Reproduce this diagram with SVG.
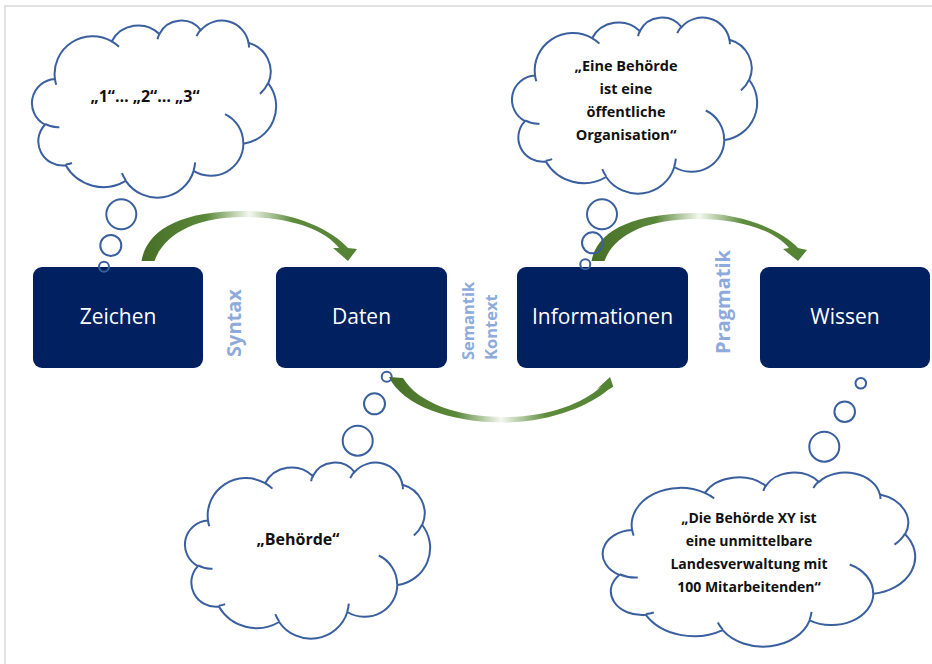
<svg xmlns="http://www.w3.org/2000/svg" xmlns:xlink="http://www.w3.org/1999/xlink" width="932" height="664" viewBox="0 0 932 664">
<style>
.frame{fill:none;stroke:#d9d9d9;stroke-width:1.5}
.box{fill:#002060}
.boxtxt{font-family:"Open Sans","Liberation Sans",sans-serif;font-size:21px;fill:#ffffff;text-anchor:middle}
.lbl{font-family:"Open Sans","Liberation Sans",sans-serif;font-weight:bold;fill:#8eaadb}
.cloud{fill:#ffffff;stroke:#3a5f9e}
.hook{fill:none;stroke:#3a5f9e}
.bub{fill:none;stroke:#3a5f9e;stroke-width:2}
.ctxt{font-family:"Open Sans","Liberation Sans",sans-serif;font-weight:bold;fill:#111111;text-anchor:middle}
.arrow{fill:url(#gArrow)}
</style>
<defs>
<linearGradient id="gArrow" x1="0" y1="0" x2="1" y2="0">
<stop offset="0" stop-color="#476f27"/>
<stop offset="0.3" stop-color="#5a8839"/>
<stop offset="0.5" stop-color="#f4f8f0"/>
<stop offset="0.7" stop-color="#5e8c3c"/>
<stop offset="1" stop-color="#548235"/>
</linearGradient>
<path id="cloudBody" vector-effect="non-scaling-stroke" stroke-width="2" d="M39,143.7 A67.53,91.9 0 0 1 140.06,52.03 A53.33,72.67 0 0 1 224.61,34.37 A43.65,59.45 0 0 1 298.37,24.85 A48.57,65.95 0 0 1 383.23,55.79 A53.33,72.73 0 0 1 418.23,154.63 A67.75,92.2 0 0 1 374.1,302.09 A57.85,78.67 0 0 1 285.62,368.19 A67.52,92.15 0 0 1 164.87,392.72 A77.2,105.43 0 0 1 58.11,354.76 A43.6,59.18 0 0 1 21.2,255.55 A43.45,59.45 0 0 1 39,143.7 Z"/>
<path id="cloudHooks" vector-effect="non-scaling-stroke" stroke-width="2" d="M46.93,261.77 A43.45,59.45 0 0 1 21.6,253.8 M69.28,348.99 A43.6,59.18 0 0 1 58.19,352.81 M164.78,390.9 A67.52,92.15 0 0 1 158.1,373.5 M288.27,347.51 A67.52,92.15 0 0 1 285.6,366.6 M341.29,229.54 A57.85,78.67 0 0 1 373.81,300.9 M417.98,153.54 A53.33,72.73 0 0 1 403.5,180.3 M383.24,54.26 A48.57,65.95 0 0 1 384,66.9 M290.78,39.52 A48.57,65.95 0 0 1 298.19,23.4 M221.41,47.2 A43.65,59.45 0 0 1 225,33.3 M140,51.92 A67.53,91.9 0 0 1 152.99,65.4 M41.27,157.89 A67.53,91.9 0 0 1 39,143.71"/>
</defs>

<path class="frame" d="M5,664 V6 H932"/>

<g id="connectors">
<path class="arrow" d="M141.5,261 C147,229 182,211 243,211 C292,211 331,229 348,248 L357,249 L348,261 L333,248 L339,248 C324,229 290,217 243,217 C196,217 164,234 154.5,261 Z"/>
<path class="arrow" d="M591.5,261 C597,231 632,213 697,213 C742,213 781,230 798,248 L807,250 L798,261 L783,249 L789,248 C774,230 740,219 697,219 C646,219 614,235 604.5,261 Z"/>
<path class="arrow" d="M389,377 C402,405 450,422.5 503,422.5 C552,422.5 590,405 608.6,389.6 L613.3,386.7 L610,377 L596.7,389.3 L601.4,386.4 C582,404 547,417 503,417 C458,417 418,403 403,378 Z"/>
</g>

<g id="node-zeichen">
<rect class="box" x="33" y="267" width="170" height="101" rx="9"/>
<text class="boxtxt" x="118" y="324">Zeichen</text>
</g>
<g id="node-daten">
<rect class="box" x="276" y="267" width="171" height="101" rx="9"/>
<text class="boxtxt" x="361.5" y="324">Daten</text>
</g>
<g id="node-informationen">
<rect class="box" x="517" y="267" width="171" height="101" rx="9"/>
<text class="boxtxt" x="602.5" y="324">Informationen</text>
</g>
<g id="node-wissen">
<rect class="box" x="760" y="267" width="170" height="101" rx="9"/>
<text class="boxtxt" x="845" y="324">Wissen</text>
</g>

<g id="label-syntax">
<text class="lbl" font-size="20" text-anchor="middle" transform="translate(241,323) rotate(-90)">Syntax</text>
</g>
<g id="label-semantik">
<text class="lbl" font-size="16.5" text-anchor="start" transform="translate(473.5,360) rotate(-90)">Semantik</text>
<text class="lbl" font-size="16.5" text-anchor="start" transform="translate(496.5,360) rotate(-90)">Kontext</text>
</g>
<g id="label-pragmatik">
<text class="lbl" font-size="20" text-anchor="middle" transform="translate(729.5,302) rotate(-90)">Pragmatik</text>
</g>

<g id="cloud-zeichen">
<g transform="translate(33,20) scale(0.5625,0.40972)">
<use xlink:href="#cloudBody" class="cloud"/>
<use xlink:href="#cloudHooks" class="hook"/>
</g>
<circle class="bub" cx="121.3" cy="214.3" r="15"/>
<circle class="bub" cx="110.8" cy="245.5" r="10.5"/>
<circle class="bub" cx="104" cy="266.7" r="5"/>
<text class="ctxt" font-size="16" x="145" y="102">„1“… „2“… „3“</text>
</g>

<g id="cloud-informationen">
<g transform="translate(513,17) scale(0.56481,0.40741)">
<use xlink:href="#cloudBody" class="cloud"/>
<use xlink:href="#cloudHooks" class="hook"/>
</g>
<circle class="bub" cx="602" cy="214.3" r="15"/>
<circle class="bub" cx="592.5" cy="242.8" r="10.5"/>
<circle class="bub" cx="585.3" cy="264.3" r="5"/>
<text class="ctxt" font-size="14.5" x="626" y="71">„Eine Behörde</text>
<text class="ctxt" font-size="14.5" x="626" y="94">ist eine</text>
<text class="ctxt" font-size="14.5" x="626" y="117">öffentliche</text>
<text class="ctxt" font-size="14.5" x="626" y="140">Organisation“</text>
</g>

<g id="cloud-daten">
<g transform="translate(186,462) scale(0.56481,0.40741)">
<use xlink:href="#cloudBody" class="cloud"/>
<use xlink:href="#cloudHooks" class="hook"/>
</g>
<circle class="bub" cx="357.7" cy="440.7" r="15"/>
<circle class="bub" cx="374.5" cy="403.8" r="10.5"/>
<circle class="bub" cx="386.7" cy="376.7" r="5"/>
<text class="ctxt" font-size="16" x="298" y="545">„Behörde“</text>
</g>

<g id="cloud-wissen">
<g transform="translate(604,472) scale(0.71991,0.40278)">
<use xlink:href="#cloudBody" class="cloud"/>
<use xlink:href="#cloudHooks" class="hook"/>
</g>
<circle class="bub" cx="824.3" cy="446.7" r="15"/>
<circle class="bub" cx="844.7" cy="411.7" r="10.3"/>
<circle class="bub" cx="860.8" cy="383.3" r="5.3"/>
<text class="ctxt" font-size="14" x="749" y="523">„Die Behörde XY ist</text>
<text class="ctxt" font-size="14" x="749" y="546">eine unmittelbare</text>
<text class="ctxt" font-size="14" x="749" y="569">Landesverwaltung mit</text>
<text class="ctxt" font-size="14" x="749" y="592">100 Mitarbeitenden“</text>
</g>
</svg>
